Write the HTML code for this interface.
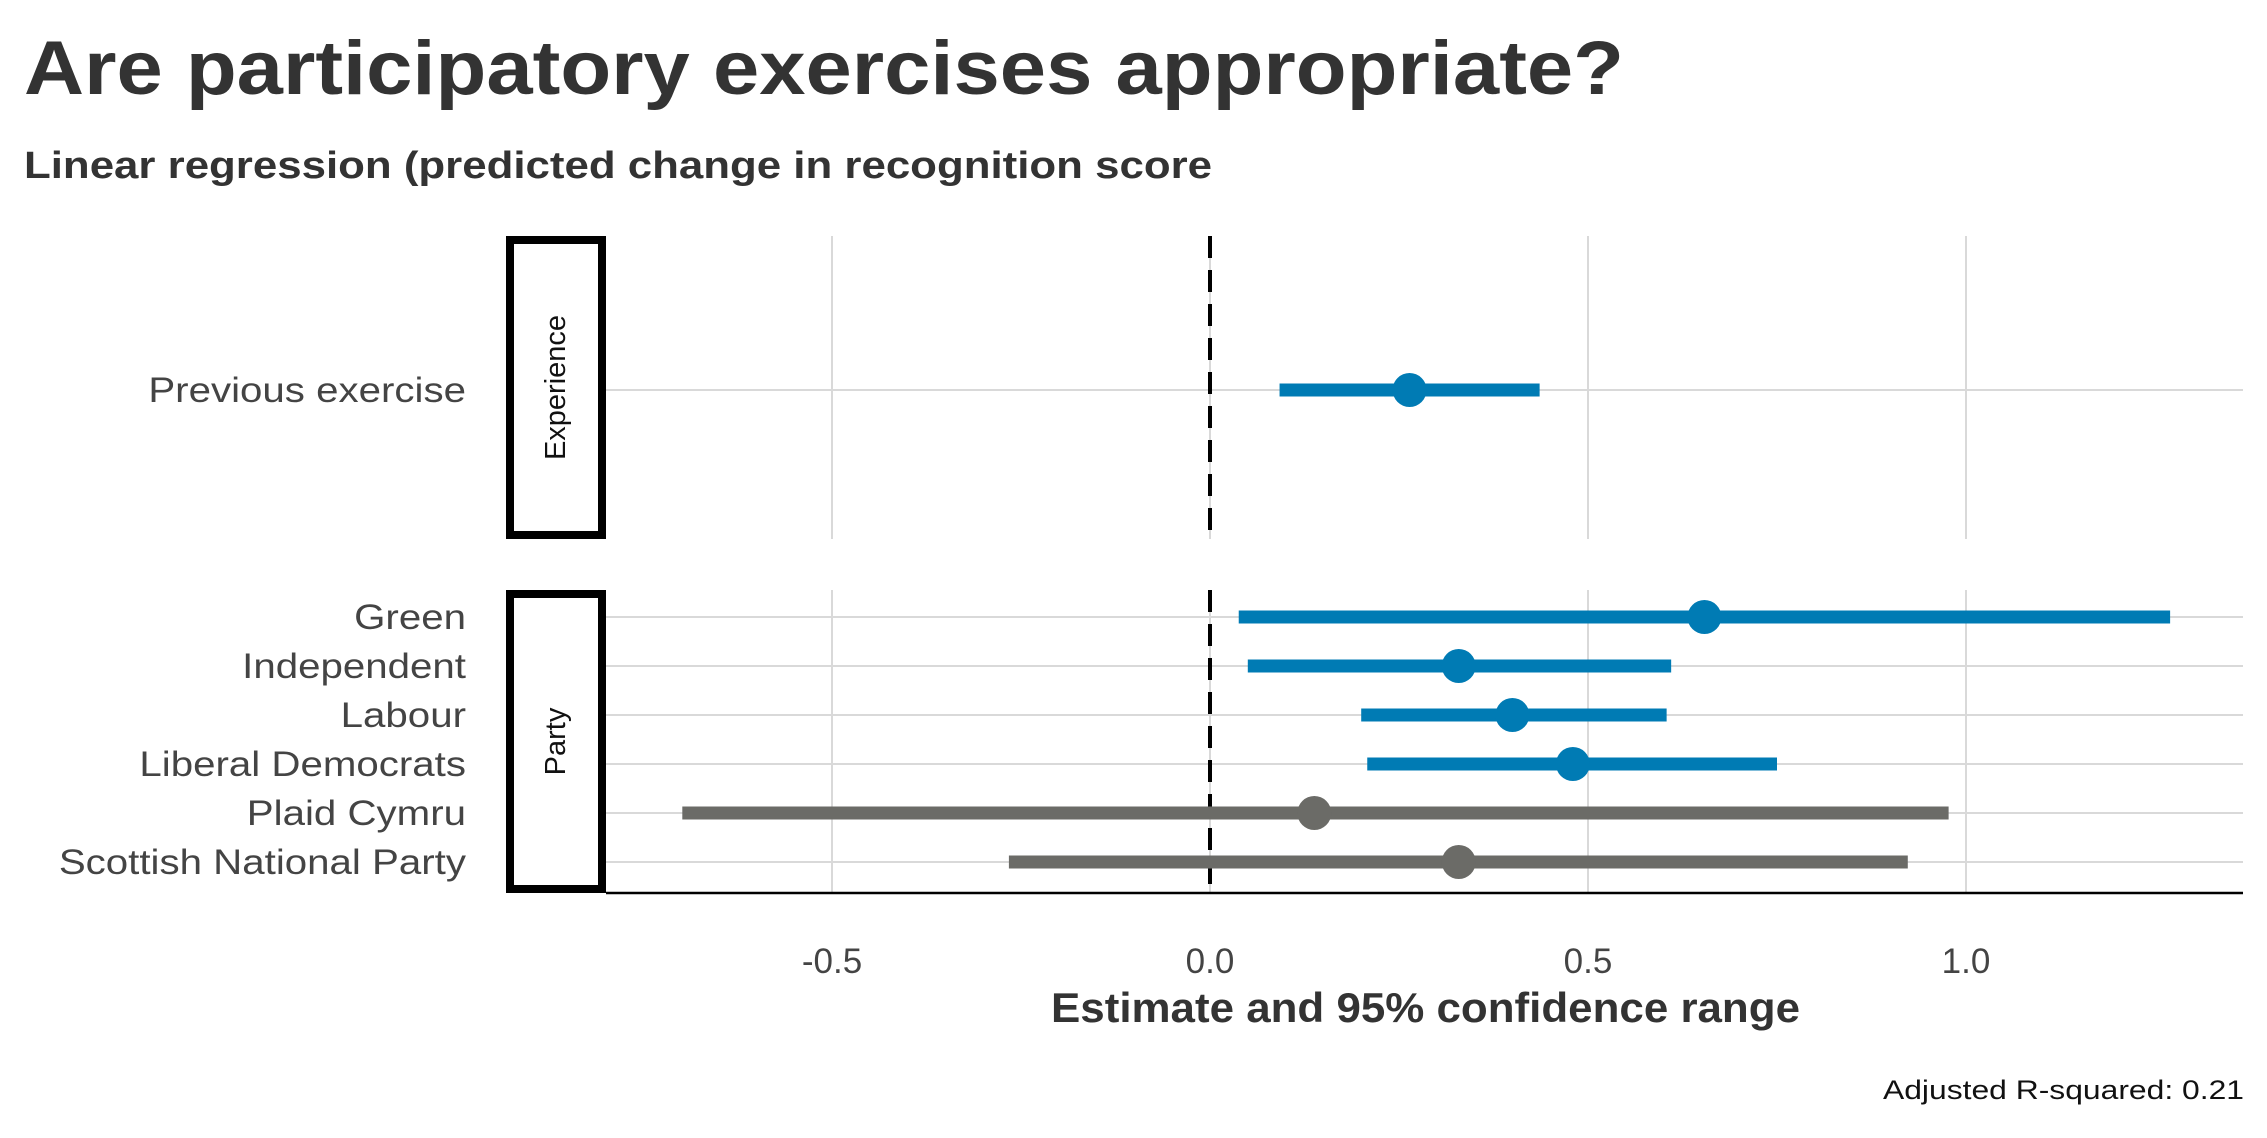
<!DOCTYPE html>
<html><head><meta charset="utf-8">
<style>
body{margin:0;background:#fff;}
svg text{font-family:"Liberation Sans",sans-serif;}
</style></head>
<body>
<svg id="chart" width="2267" height="1133" viewBox="0 0 2267 1133" xmlns="http://www.w3.org/2000/svg">
<text x="24" y="94" font-size="76" font-weight="bold" fill="#333" textLength="1600" lengthAdjust="spacingAndGlyphs">Are participatory exercises appropriate?</text>
<text x="24" y="178" font-size="38" font-weight="bold" fill="#333" textLength="1188" lengthAdjust="spacingAndGlyphs">Linear regression (predicted change in recognition score</text>
<g id="plot"></g>
<text x="1051" y="1022" font-size="42" font-weight="bold" fill="#333" textLength="749" lengthAdjust="spacingAndGlyphs">Estimate and 95% confidence range</text>
<text x="2244" y="1099" font-size="27" fill="#111" text-anchor="end" textLength="361" lengthAdjust="spacingAndGlyphs">Adjusted R-squared: 0.21</text>
</svg>
<script>
const labels = ["Previous exercise","Green","Independent","Labour","Liberal Democrats","Plaid Cymru","Scottish National Party"];
const groups = ["Experience","Party","Party","Party","Party","Party","Party"];
const estimates = [0.264,0.654,0.329,0.40,0.48,0.138,0.329];
const lower = [0.092,0.038,0.05,0.20,0.208,-0.698,-0.266];
const upper = [0.436,1.27,0.61,0.604,0.75,0.977,0.923];
const xTicks = [-0.5,0,0.5,1.0];
const xTickLabels = ["-0.5","0.0","0.5","1.0"];

const NS="http://www.w3.org/2000/svg";
const g=document.getElementById('plot');
const x0=1210, unit=756, plotL=606, plotR=2243;
const X=v=>x0+v*unit;
const panels={Experience:{top:236,bottom:539},Party:{top:590,bottom:893}};
function el(t,a){const e=document.createElementNS(NS,t);for(const k in a)e.setAttribute(k,a[k]);g.appendChild(e);return e;}
const partyRows=labels.map((l,i)=>i).filter(i=>groups[i]==="Party");
function Y(i){
  if(groups[i]==="Experience")return 390;
  const k=partyRows.indexOf(i);
  return 617+49*k;
}
for(const name in panels){
  const p=panels[name];
  xTicks.forEach((t,j)=>{
    const gl=el('line',{x1:X(t),x2:X(t),y1:p.top,y2:p.bottom,stroke:'#d9d9d9','stroke-width':2});
    
    
  });
  const sb=el('rect',{x:510,y:p.top+4,width:92,height:p.bottom-p.top-8,fill:'#fff',stroke:'#000','stroke-width':8});
  
  
  const cy=(p.top+p.bottom)/2;
  const st=el('text',{x:556,y:cy,'font-size':29,fill:'#111','text-anchor':'middle','dominant-baseline':'central',transform:`rotate(-90 556 ${cy})`});
  st.textContent=name;
  
  
}
labels.forEach((l,i)=>{
  const y=Y(i);
  const hl=el('line',{x1:plotL,x2:plotR,y1:y,y2:y,stroke:'#d9d9d9','stroke-width':2});
  
  
  const t=el('text',{x:466,y:y+12,'font-size':35,fill:'#444','text-anchor':'end'});
  t.textContent=l;
  
  
  const w=t.getComputedTextLength();
  t.setAttribute('textLength',w*1.15);
  t.setAttribute('lengthAdjust','spacingAndGlyphs');
});
for(const name in panels){const p=panels[name];
  const zl=el('line',{x1:X(0),x2:X(0),y1:p.top,y2:p.bottom,stroke:'#000','stroke-width':4,'stroke-dasharray':'22 12'});
  
  
}
labels.forEach((l,i)=>{
  const y=Y(i);
  const col=lower[i]>0?'#007bb4':'#6b6b67';
  const r=el('line',{x1:X(lower[i]),x2:X(upper[i]),y1:y,y2:y,stroke:col,'stroke-width':13});
  
  
  const c=el('circle',{cx:X(estimates[i]),cy:y,r:17,fill:col});
  
  
});
const ax=el('line',{x1:plotL,x2:plotR,y1:893,y2:893,stroke:'#000','stroke-width':2.5});


xTicks.forEach((t,j)=>{
  const tl=el('text',{x:X(t),y:973,'font-size':35,fill:'#444','text-anchor':'middle'});
  tl.textContent=xTickLabels[j];
  
  
});
</script>
</body></html>
